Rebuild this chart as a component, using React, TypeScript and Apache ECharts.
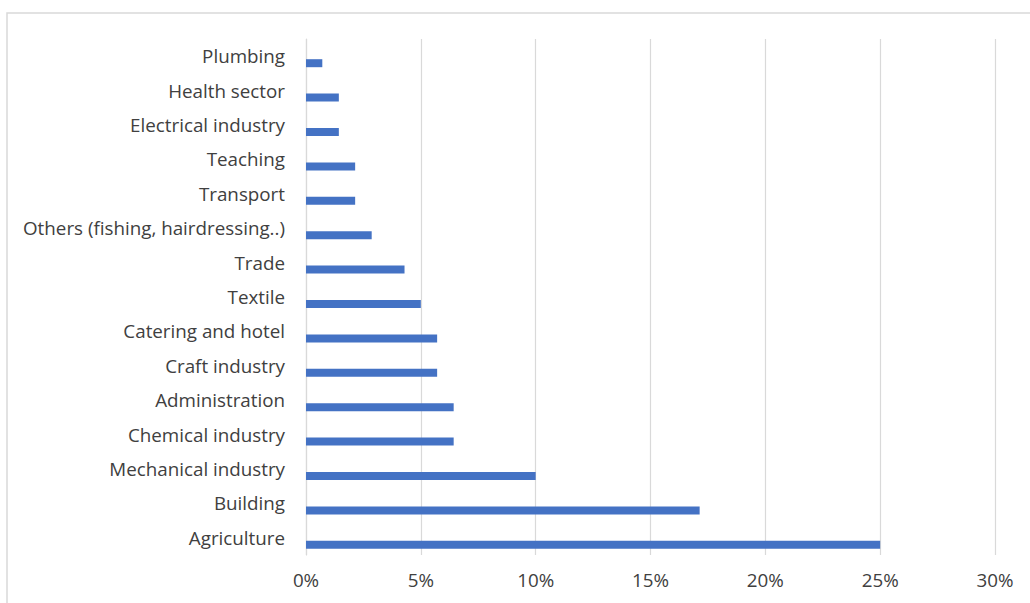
import React, { useEffect, useRef } from "react";
import * as echarts from "echarts";

// Bottom-to-top order (as on the category axis)
const categories = [
  "Agriculture",
  "Building",
  "Mechanical industry",
  "Chemical industry",
  "Administration",
  "Craft industry",
  "Catering and hotel",
  "Textile",
  "Trade",
  "Others (fishing, hairdressing..)",
  "Transport",
  "Teaching",
  "Electrical industry",
  "Health sector",
  "Plumbing",
];

const shares = [25.0, 17.14, 10.0, 6.43, 6.43, 5.71, 5.71, 5.0, 4.29, 2.86, 2.14, 2.14, 1.43, 1.43, 0.71];
const spacer = categories.map(() => null);
const xTicks = { min: 0, max: 30, interval: 5 };

export default function App() {
  const ref = useRef<HTMLDivElement>(null);
  useEffect(() => {
    const chart = echarts.init(ref.current!, null, { renderer: "svg" });
    const font = "'Open Sans', sans-serif";
    chart.setOption({
      animation: false,
      backgroundColor: "#ffffff",
      graphic: [
        {
          type: "rect",
          shape: { x: 7, y: 13, width: 1060, height: 640 },
          style: { fill: "none", stroke: "#d9d9d9", lineWidth: 1.5 },
          silent: true,
        },
      ],
      grid: { left: 306, right: 35, top: 39, bottom: 48 },
      xAxis: {
        type: "value",
        min: xTicks.min,
        max: xTicks.max,
        interval: xTicks.interval,
        axisLine: { show: false },
        axisTick: { show: false },
        splitLine: { show: true, lineStyle: { color: "#d9d9d9", width: 1.2 } },
        axisLabel: {
          formatter: "{value}%",
          color: "#404040",
          fontFamily: font,
          fontSize: 18.8,
          margin: 15,
        },
      },
      yAxis: {
        type: "category",
        data: categories,
        axisLine: { show: true, lineStyle: { color: "#d9d9d9", width: 1.2 } },
        axisTick: { show: false },
        axisLabel: {
          color: "#404040",
          fontFamily: font,
          fontSize: 18.8,
          margin: 21,
          padding: [0, 0, 2, 0],
        },
      },
      series: [
        {
          type: "bar",
          data: spacer,
          barWidth: 8,
          barGap: "75%",
          silent: true,
        },
        {
          type: "bar",
          data: shares,
          barWidth: 8,
          barGap: "75%",
          itemStyle: { color: "#4472c4" },
        },
      ],
    });
    return () => chart.dispose();
  }, []);
  return (
    <div
      ref={ref}
      style={{ position: "absolute", left: 0, top: 0, width: 1030, height: 603 }}
    />
  );
}
